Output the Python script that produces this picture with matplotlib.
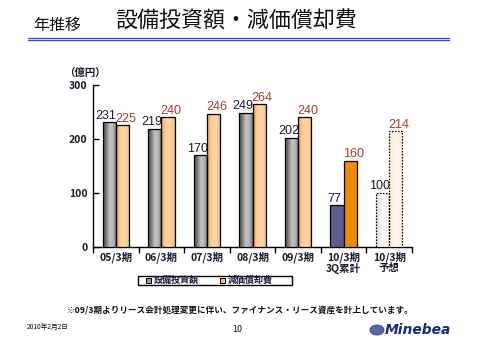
import matplotlib
matplotlib.use("Agg")
import matplotlib.pyplot as plt
import numpy as np
from matplotlib.colors import LinearSegmentedColormap
from matplotlib.patches import Rectangle
from matplotlib.lines import Line2D

plt.rcParams['font.family'] = ['Noto Sans CJK JP', 'DejaVu Sans']

categories = ["05/3期", "06/3期", "07/3期", "08/3期", "09/3期", "10/3期\n3Q累計", "10/3期\n予想"]
capex = [231, 219, 170, 249, 202, 77, 100]
depreciation = [225, 240, 246, 264, 240, 160, 214]
yticks = [0, 100, 200, 300]
series_names = ["設備投資額", "減価償却費"]

fig = plt.figure(figsize=(4.8, 3.4), dpi=100)
fig.patch.set_facecolor("white")

# Header
fig.text(33/480, 1-25/340, "年推移", fontsize=11.5, va="center", ha="left", color="#111111")
fig.text(115/480, 1-22/340, "設備投資額・減価償却費", fontsize=15.8, va="center", ha="left", color="#111111")
fig.add_artist(Line2D([28/480, 449/480], [1-37.5/340, 1-37.5/340], color="#3344ff", lw=0.9))
fig.add_artist(Line2D([28/480, 449/480], [1-39.5/340, 1-39.5/340], color="#3344ff", lw=0.9))

ax = fig.add_axes([93/480, 1-247/340, (412-93)/480, (247-85)/340])
x = np.arange(len(categories))
w = 0.29

gray_cmap = LinearSegmentedColormap.from_list("g", ["#4a4a4a", "#808080", "#c4c4c4", "#b4b4b4", "#707070"])
orange_cmap = LinearSegmentedColormap.from_list("o", ["#e8a060", "#ffcf9c", "#ffd6a8", "#f2b070"])
light_gray_cmap = LinearSegmentedColormap.from_list("lg", ["#d4d4d4", "#f2f2f2", "#ffffff", "#e6e6e6"])
light_orange_cmap = LinearSegmentedColormap.from_list("lo", ["#ffe6d2", "#fff4ea", "#fff6ee", "#ffe2c8"])
grad = np.linspace(0, 1, 64).reshape(1, -1)

def grad_fill(bar, cmap):
    bx, by = bar.get_x(), bar.get_y()
    bw, bh = bar.get_width(), bar.get_height()
    im = ax.imshow(grad, cmap=cmap, aspect="auto", extent=[bx, bx + bw, by, by + bh],
                   zorder=bar.get_zorder() - 0.1, interpolation="bilinear")
    im.set_clip_path(bar)

n = len(categories)
lab_font = ["Liberation Sans", "DejaVu Sans"]
for i in range(n):
    if i < 5:
        b1 = ax.bar(x[i] - w/2, capex[i], w, facecolor="none", edgecolor="black", lw=0.9, zorder=3)[0]
        grad_fill(b1, gray_cmap)
        b2 = ax.bar(x[i] + w/2, depreciation[i], w, facecolor="none", edgecolor="black", lw=0.9, zorder=3)[0]
        grad_fill(b2, orange_cmap)
    elif i == 5:
        ax.bar(x[i] - w/2, capex[i], w, facecolor="#5c5c8e", edgecolor="black", lw=0.9, zorder=3)
        ax.bar(x[i] + w/2, depreciation[i], w, facecolor="#ee8c00", edgecolor="black", lw=0.9, zorder=3)
    else:
        b1 = ax.bar(x[i] - w/2, capex[i], w, facecolor="none", edgecolor="black", lw=0.9,
                    linestyle=(0, (1.2, 1.2)), zorder=3)[0]
        grad_fill(b1, light_gray_cmap)
        b2 = ax.bar(x[i] + w/2, depreciation[i], w, facecolor="none", edgecolor="black", lw=0.9,
                    linestyle=(0, (1.2, 1.2)), zorder=3)[0]
        grad_fill(b2, light_orange_cmap)
    ax.annotate(str(capex[i]), (x[i] - w/2, capex[i]), xytext=(-2.2, 0.5), textcoords="offset points",
                ha="center", va="bottom", fontsize=9, color="#1a1a3a", family=lab_font)
    ax.annotate(str(depreciation[i]), (x[i] + w/2, depreciation[i]), xytext=(2.2, 0.5), textcoords="offset points",
                ha="center", va="bottom", fontsize=9, color="#a0402a", family=lab_font)

ax.set_xlim(-0.5, n - 0.5)
ax.set_ylim(0, 300)
ax.set_yticks(yticks)
ax.set_yticklabels([str(t) for t in yticks], fontsize=7.5, fontweight="bold", color="#1a1a2a")
ax.set_xticks(np.arange(-0.5, n, 1.0))
ax.set_xticklabels([])
ax.set_xticks(x, minor=True)
ax.set_xticklabels(categories, minor=True, fontsize=7.5, fontweight="bold", color="#1a1a2a", linespacing=1.0)
ax.tick_params(axis="x", which="major", direction="out", length=4, width=1, color="black")
ax.tick_params(axis="x", which="minor", length=0, pad=3)
ax.tick_params(axis="y", direction="in", length=4, width=1, pad=4)
for s in ["top", "right"]:
    ax.spines[s].set_visible(False)
for s in ["left", "bottom"]:
    ax.spines[s].set_linewidth(1.0)
    ax.spines[s].set_color("black")
ax.set_facecolor("none")

fig.text(64/480, 1-73/340, "（億円）", fontsize=7.5, fontweight="bold", ha="left", va="center", color="#1a1a2a")

# Legend
lx0, lx1, ly0, ly1 = 138/480, 292/480, 1-285/340, 1-276/340
fig.add_artist(Rectangle((lx0, ly0), lx1 - lx0, ly1 - ly0, transform=fig.transFigure,
                         facecolor="white", edgecolor="black", lw=1.0))
ym = (ly0 + ly1) / 2
for xs, col, name in [(146/480, "#9a9a9a", series_names[0]), (220/480, "#f8c090", series_names[1])]:
    sq_w, sq_h = 5/480, 5/340
    fig.add_artist(Rectangle((xs, ym - sq_h/2), sq_w, sq_h, transform=fig.transFigure,
                             facecolor=col, edgecolor="black", lw=0.7))
    fig.text(xs + 8/480, ym, name, fontsize=6.5, fontweight="bold", ha="left", va="center", color="#1a1a3a")

# Footnote and footer
fig.text(67/480, 1-310/340, "※09/3期よりリース会計処理変更に伴い、ファイナンス・リース資産を計上しています。",
         fontsize=6.2, fontweight="bold", ha="left", va="center", color="#111111")
fig.text(27/480, 1-327/340, "2010年2月2日", fontsize=4.8, ha="left", va="center", style="italic", color="#111111")
fig.text(237/480, 1-330/340, "10", fontsize=6.5, ha="center", va="center", color="#111111")
fig.text(385/480, 1-330/340, "Minebea", fontsize=10, ha="left", va="center", style="italic",
         fontweight="bold", color="#1a2a7a", family="DejaVu Sans")
fig.add_artist(plt.Circle((377/480, 1-330/340), 7/480, transform=fig.transFigure,
                          facecolor="#5a6aa8", edgecolor="#2a3a7a", lw=0.6))

fig.savefig("out.png", dpi=100)
